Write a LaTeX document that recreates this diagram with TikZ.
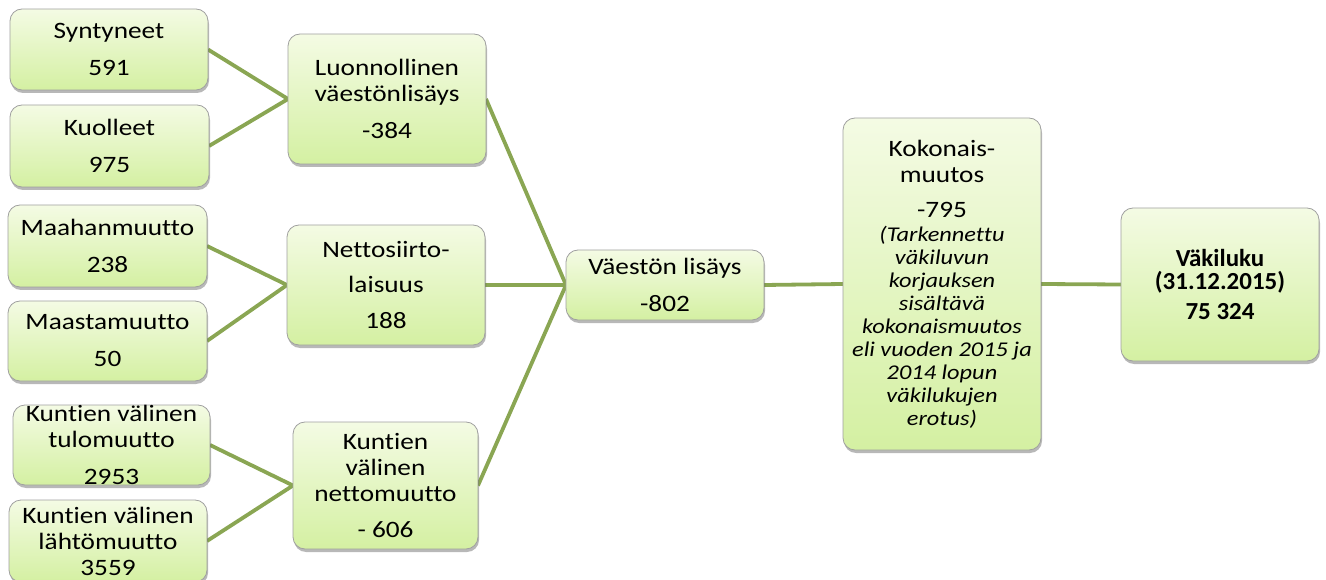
\documentclass[tikz,border=0pt]{standalone}
\usepackage{fontspec}
\setmainfont{Carlito}[FakeStretch=1.16, Ligatures={NoCommon}]
\newfontfamily\vakfont{Carlito}[FakeStretch=1.02, Ligatures={NoCommon}]
\usetikzlibrary{shadows,backgrounds}
\definecolor{boxtop}{HTML}{F4FBE4}
\definecolor{boxbot}{HTML}{D4F0A2}
\definecolor{boxline}{HTML}{A0A0A0}
\definecolor{conn}{HTML}{8AA653}
\tikzset{
  box/.style={draw=boxline, line width=0.8pt, rounded corners=12pt,
    top color=boxtop, bottom color=boxbot, align=center,
    inner sep=0pt, outer sep=0pt,
    font=\fontsize{23.5}{26}\selectfont,
    drop shadow={shadow xshift=1pt, shadow yshift=-3pt, fill=black, opacity=0.28}},
  link/.style={draw=conn, line width=3.8pt},
}
\newcommand{\itl}{\itshape\fontsize{21}{23}\selectfont}
\begin{document}
\begin{tikzpicture}[x=1pt,y=-1pt]
\useasboundingbox (0,0) rectangle (1326,580);
\node[box, minimum width=198pt, minimum height=81pt] (syn) at (109,49.5) {Syntyneet\\[11pt]591};
\node[box, minimum width=199pt, minimum height=82pt] (kuo) at (109.5,146) {Kuolleet\\[11pt]975};
\node[box, minimum width=198pt, minimum height=130pt] (luo) at (387,99) {Luonnollinen\\väestönlisäys\\[11pt]-384};
\node[box, minimum width=199pt, minimum height=82pt] (maa) at (107.5,246) {Maahanmuutto\\[11pt]238};
\node[box, minimum width=199pt, minimum height=80pt] (mst) at (107.5,341) {Maastamuutto\\[11pt]50};
\node[box, minimum width=198pt, minimum height=120pt] (net) at (386,285) {Nettosiirto-\\[9pt]laisuus\\[10pt]188};
\node[box, minimum width=197pt, minimum height=80pt] (tulo) at (111.5,445) {Kuntien välinen\\tulomuutto\\[11pt]2953};
\node[box, minimum width=198pt, minimum height=82pt] (lahto) at (108,541) {Kuntien välinen\\lähtömuutto\\3559};
\node[box, minimum width=185pt, minimum height=127pt] (knet) at (385.5,485.5) {Kuntien\\välinen\\nettomuutto\\[11pt]- 606};
\node[box, minimum width=198pt, minimum height=70pt] (vl) at (665,285) {Väestön lisäys\\[11pt]-802};
\node[box, minimum width=198pt, minimum height=332pt] (kok) at (942,284) {Kokonais-\\muutos\\[9pt]-795\\[-2pt]{\itl (Tarkennettu}\\[-3pt]{\itl väkiluvun}\\[-3pt]{\itl korjauksen}\\[-3pt]{\itl sisältävä}\\[-3pt]{\itl kokonaismuutos}\\[-3pt]{\itl eli vuoden 2015 ja}\\[-3pt]{\itl 2014 lopun}\\[-3pt]{\itl väkilukujen}\\[-3pt]{\itl erotus)}};
\node[box, minimum width=198pt, minimum height=153pt, font=\vakfont\bfseries\fontsize{24.5}{26}\selectfont] (vak) at (1220,284.5) {Väkiluku\\[-3pt](31.12.2015)\\[4pt]75 324};
\begin{scope}[on background layer]
\draw[link] (syn.east) -- (luo.west);
\draw[link] (kuo.east) -- (luo.west);
\draw[link] (maa.east) -- (net.west);
\draw[link] (mst.east) -- (net.west);
\draw[link] (tulo.east) -- (knet.west);
\draw[link] (lahto.east) -- (knet.west);
\draw[link] (luo.east) -- (vl.west);
\draw[link] (net.east) -- (vl.west);
\draw[link] (knet.east) -- (vl.west);
\draw[link] (vl.east) -- (kok.west);
\draw[link] (kok.east) -- (vak.west);
\end{scope}
\end{tikzpicture}
\end{document}
